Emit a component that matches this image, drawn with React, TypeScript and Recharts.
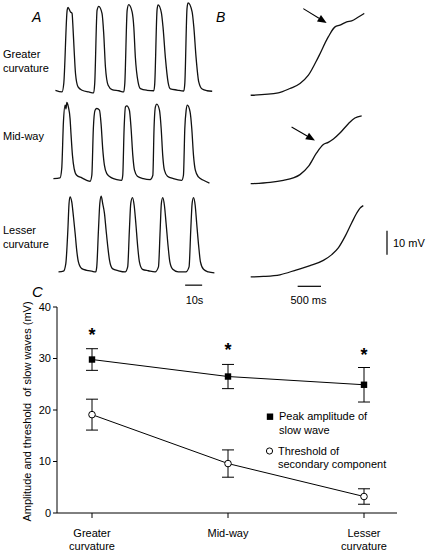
import React from 'react';
import { LineChart, Line, XAxis, YAxis, ReferenceLine, ErrorBar } from 'recharts';

const FONT = '"Liberation Sans", Arial, Helvetica, sans-serif';

// ---------- Panel A: slow waves (time in s, potential in mV above baseline) ----------
const greaterA_t = [0.2, 4.1, 5.1, 7.1, 7.6, 9.0, 10.0, 10.4, 11.2, 12.0, 13.5, 15.9, 19.8, 22.7,
  23.3, 24.7, 25.7, 27.6, 28.6, 29.6, 31.2, 33.5, 37.5, 40.4,
  41.0, 42.4, 43.3, 45.3, 46.3, 47.2, 48.8, 50.2, 54.1, 58.1,
  58.6, 60.0, 60.6, 62.5, 63.5, 64.9, 66.5, 67.8, 71.8, 75.7,
  76.3, 77.6, 78.2, 80.6, 81.6, 82.9, 84.5, 86.5, 89.4, 92.4];
const greaterA_v = [0.8, 0.1, 3.6, 34.2, 35.3, 33.5, 32.8, 28.6, 17.5, 7.8, 2.2, 0.8, 0.1, -0.3,
  3.6, 34.2, 35.8, 32.8, 24.4, 10.6, 2.9, 1.1, 0.6, 0.1,
  3.6, 34.2, 36.5, 33.5, 27.2, 14.7, 4.3, 1.5, 0.8, 0.6,
  3.4, 34.5, 36.4, 33.2, 27.0, 14.2, 4.0, 1.4, 0.9, 0.5,
  3.6, 34.8, 37.2, 33.5, 27.2, 14.7, 4.3, 1.3, 0.6, 0.4];

const midA_t = [-1.0, 2.9, 3.9, 4.9, 5.9, 6.4, 6.9, 7.8, 8.8, 9.4, 10.2, 11.2, 12.7, 15.7, 18.6, 20.6,
  21.6, 22.5, 23.5, 24.5, 26.1, 27.1, 28.0, 29.0, 30.4, 33.3, 36.3, 39.2,
  39.8, 40.6, 41.4, 42.2, 43.7, 44.7, 45.7, 46.7, 48.4, 51.9, 55.9,
  57.5, 58.2, 59.0, 59.8, 61.4, 62.4, 63.3, 64.3, 66.1, 69.6, 74.5,
  75.5, 76.3, 77.1, 77.8, 79.4, 80.4, 81.4, 82.5, 84.3, 87.3, 90.8];
const midA_v = [1.5, 1.8, 5.7, 25.1, 32.1, 30.5, 33.2, 31.4, 26.5, 19.6, 11.3, 5.7, 2.9, 1.8, 0.8, 0.4,
  2.9, 22.4, 30.0, 30.7, 30.0, 23.8, 14.0, 7.1, 3.6, 1.8, 1.1, 0.8,
  2.9, 22.4, 31.4, 31.8, 30.0, 22.4, 11.3, 5.0, 2.5, 1.5, 1.1,
  2.9, 22.4, 31.4, 32.5, 30.0, 22.4, 11.3, 5.0, 2.5, 1.5, 0.8,
  2.9, 22.4, 30.0, 32.1, 29.3, 22.4, 11.3, 5.0, 2.2, 0.8, -0.4];

const lesserA_t = [2.0, 4.9, 6.3, 7.5, 8.2, 8.8, 9.8, 10.8, 11.8, 12.7, 13.7, 15.7, 18.6, 21.6, 23.9,
  24.5, 25.5, 26.3, 27.1, 28.0, 29.0, 30.0, 31.0, 32.0, 33.7, 37.3, 41.2,
  42.7, 43.7, 44.5, 45.5, 46.5, 47.5, 48.6, 49.6, 51.4, 54.9, 58.8,
  60.8, 61.8, 62.5, 63.3, 64.3, 65.3, 66.5, 67.5, 69.2, 72.5, 76.9,
  78.8, 79.8, 80.6, 81.4, 82.4, 83.3, 84.5, 85.5, 87.3, 90.2, 93.7];
const lesserA_v = [0.1, 0.4, 3.6, 17.5, 28.6, 31.4, 29.3, 23.1, 16.1, 9.2, 4.3, 1.5, 0.8, 0.4, 0.1,
  2.2, 17.5, 28.6, 31.7, 28.6, 24.7, 17.5, 10.6, 5.0, 1.5, 0.6, 0.1,
  2.2, 17.5, 28.6, 31.1, 27.9, 20.3, 10.6, 4.3, 1.2, 0.6, 0.1,
  2.2, 17.5, 28.6, 31.1, 27.9, 20.3, 10.6, 4.3, 1.2, 0.1, 0.1,
  2.2, 17.5, 28.6, 31.1, 27.9, 20.3, 10.6, 4.3, 1.2, 0.1, -0.3];

// ---------- Panel B: upstroke of single slow waves (time in ms, mV) ----------
const greaterB_t = [15, 605, 855, 1070, 1250, 1465, 1675, 1820, 1925, 2070, 2175, 2320, 2445];
const greaterB_v = [0.4, 1.4, 3.2, 5.3, 8.75, 16.4, 24.7, 28.9, 29.6, 31.0, 31.4, 33.0, 34.5];
const midB_t = [15, 430, 715, 925, 1070, 1250, 1425, 1570, 1675, 1785, 1925, 2105, 2245, 2390];
const midB_v = [0.2, 0.75, 1.6, 2.6, 4.0, 7.4, 13.0, 16.5, 17.4, 18.8, 21.3, 25.2, 27.6, 28.5];
const lesserB_t = [15, 285, 640, 1000, 1285, 1570, 1750, 1890, 2035, 2175, 2285, 2355, 2425];
const lesserB_v = [0.1, 0.3, 1.0, 3.1, 4.8, 7.0, 9.4, 12.2, 17.0, 22.6, 26.75, 28.8, 29.8];

// arrows marking the secondary component: [t, mV] start and end
const greaterArrow = [[1140, 36.5], [1640, 30.5]];
const midArrow = [[890, 23.8], [1390, 18.25]];

// ---------- Panel C ----------
const categories = ['Greater curvature', 'Mid-way', 'Lesser curvature'];
const peakAmplitude = [29.8, 26.5, 24.9];
const peakSem = [2.1, 2.35, 3.35];
const secondaryThreshold = [19.1, 9.6, 3.2];
const thresholdSem = [3.0, 2.65, 1.5];
const significanceMarks = [35.5, 32.6, 31.5];
const yTicks = [0, 10, 20, 30, 40];

const zip = (t: number[], v: number[]) => t.map((x, i) => ({ t: x, v: v[i] }));

const Arrow = (p: any) => {
  const { x1, y1, x2, y2 } = p;
  const dx = x2 - x1, dy = y2 - y1;
  const len = Math.hypot(dx, dy) || 1;
  const ux = dx / len, uy = dy / len;
  const hl = 9, hw = 3.8;
  const bx = x2 - ux * hl, by = y2 - uy * hl;
  return (
    <g>
      <line x1={x1} y1={y1} x2={bx} y2={by} stroke="#000" strokeWidth={1.1} />
      <polygon points={`${x2},${y2} ${bx - uy * hw},${by + ux * hw} ${bx + uy * hw},${by - ux * hw}`} fill="#000" />
    </g>
  );
};

function Trace(props: any) {
  const { data, left, top, width, height, xDomain, yDomain, children } = props;
  return (
    <div style={{ position: 'absolute', left, top }}>
      <LineChart width={width} height={height} data={data} margin={{ top: 0, right: 0, bottom: 0, left: 0 }}>
        <XAxis type="number" dataKey="t" domain={xDomain} hide allowDataOverflow />
        <YAxis type="number" domain={yDomain} hide allowDataOverflow />
        <Line type="monotone" dataKey="v" stroke="#111" strokeWidth={1.3} dot={false} activeDot={false} isAnimationActive={false} />
        {children}
      </LineChart>
    </div>
  );
}

const CatTick = (props: any) => {
  const { x, y, payload } = props;
  const lines = String(payload.value).split(' ');
  return (
    <text x={x} y={y} textAnchor="middle" fontSize={11} fill="#000" fontFamily={FONT}>
      {lines.map((l, i) => (
        <tspan key={i} x={x} dy={i === 0 ? 17 : 13}>{l}</tspan>
      ))}
    </text>
  );
};

const SquareDot = (p: any) => (
  <rect key={`sq-${p.index}`} x={p.cx - 3.2} y={p.cy - 3.2} width={6.4} height={6.4} fill="#000" />
);
const StarDot = (p: any) => (
  <text key={`st-${p.index}`} x={p.cx} y={p.cy + 10.5} textAnchor="middle" fontSize={18} fontWeight="bold" fontFamily={FONT} fill="#000">*</text>
);

const PX_S = 1.7; // px per second in panel A
const PX_MV = 2.4; // px per mV
const PX_MS = 1 / 21.4; // px per ms in panel B

export default function App() {
  const cData = categories.map((c, i) => ({
    site: c,
    peak: peakAmplitude[i],
    peakErr: peakSem[i],
    thr: secondaryThreshold[i],
    thrErr: thresholdSem[i],
    star: significanceMarks[i],
  }));
  const aW = 98 * PX_S;
  const bW = 3000 * PX_MS;
  const hStd = 40 * PX_MV;
  const hLow = 44 * PX_MV;
  return (
    <div style={{ position: 'absolute', left: 0, top: 0, width: 428, height: 553, background: '#fff', fontFamily: FONT }}>
      {/* Panel A */}
      <Trace data={zip(greaterA_t, greaterA_v)} left={49.9} top={0.8} width={aW} height={hStd} xDomain={[-3, 95]} yDomain={[-2, 38]} />
      <Trace data={zip(midA_t, midA_v)} left={49.9} top={90.8} width={aW} height={hStd} xDomain={[-3, 95]} yDomain={[-2, 38]} />
      <Trace data={zip(lesserA_t, lesserA_v)} left={49.9} top={180.8} width={aW} height={hLow} xDomain={[-3, 95]} yDomain={[-6, 38]}>
        <ReferenceLine segment={[{ x: 76.5, y: -5.4 }, { x: 86.5, y: -5.4 }]} stroke="#000" strokeWidth={1.2} />
      </Trace>
      {/* Panel B */}
      <Trace data={zip(greaterB_t, greaterB_v)} left={250} top={4.8} width={bW} height={hStd} xDomain={[0, 3000]} yDomain={[-2, 38]}>
        <ReferenceLine segment={[{ x: greaterArrow[0][0], y: greaterArrow[0][1] }, { x: greaterArrow[1][0], y: greaterArrow[1][1] }]} shape={Arrow} />
      </Trace>
      <Trace data={zip(midB_t, midB_v)} left={250} top={93.3} width={bW} height={hStd} xDomain={[0, 3000]} yDomain={[-2, 38]}>
        <ReferenceLine segment={[{ x: midArrow[0][0], y: midArrow[0][1] }, { x: midArrow[1][0], y: midArrow[1][1] }]} shape={Arrow} />
      </Trace>
      <Trace data={zip(lesserB_t, lesserB_v)} left={250} top={186.3} width={bW} height={hLow} xDomain={[0, 3000]} yDomain={[-6, 38]}>
        <ReferenceLine segment={[{ x: 1020, y: -3.8 }, { x: 1520, y: -3.8 }]} stroke="#000" strokeWidth={1.2} />
        <ReferenceLine segment={[{ x: 2932, y: 9.4 }, { x: 2932, y: 19.4 }]} stroke="#000" strokeWidth={1.2} />
      </Trace>

      {/* Panel C */}
      <div style={{ position: 'absolute', left: 0, top: 290 }}>
        <LineChart width={428} height={263} data={cData} margin={{ top: 17, right: 31, bottom: 0, left: 0 }}>
          <XAxis dataKey="site" type="category" padding={{ left: 35, right: 33 }} height={40} tickSize={5}
            tick={<CatTick />} interval={0} axisLine={{ stroke: '#000' }} tickLine={{ stroke: '#000' }} />
          <YAxis type="number" domain={[0, 40]} ticks={yTicks} width={57} tickSize={4}
            tick={{ fontSize: 11, fill: '#000', fontFamily: FONT }} axisLine={{ stroke: '#000' }} tickLine={{ stroke: '#000' }} />
          <Line dataKey="peak" type="linear" stroke="#000" strokeWidth={1} dot={SquareDot} activeDot={false} isAnimationActive={false}>
            <ErrorBar dataKey="peakErr" width={6} stroke="#000" strokeWidth={1} direction="y" />
          </Line>
          <Line dataKey="thr" type="linear" stroke="#000" strokeWidth={1} dot={{ r: 3.3, fill: '#fff', stroke: '#000', strokeWidth: 1 }} activeDot={false} isAnimationActive={false}>
            <ErrorBar dataKey="thrErr" width={6} stroke="#000" strokeWidth={1} direction="y" />
          </Line>
          <Line dataKey="star" stroke="none" dot={StarDot} activeDot={false} isAnimationActive={false} />
        </LineChart>
      </div>

      {/* Text overlay */}
      <svg width={428} height={553} style={{ position: 'absolute', left: 0, top: 0, pointerEvents: 'none' }} fontFamily={FONT} fill="#000">
        <text x={32} y={22} fontSize={14} fontStyle="italic">A</text>
        <text x={216} y={22} fontSize={14} fontStyle="italic">B</text>
        <text x={32} y={297} fontSize={15} fontStyle="italic">C</text>
        <text x={3} y={57.5} fontSize={11}>Greater</text>
        <text x={3} y={71.5} fontSize={11}>curvature</text>
        <text x={3} y={140} fontSize={11}>Mid-way</text>
        <text x={3} y={234} fontSize={11}>Lesser</text>
        <text x={3} y={248} fontSize={11}>curvature</text>
        <text x={194.5} y={303.5} fontSize={11} textAnchor="middle">10s</text>
        <text x={308.5} y={303.5} fontSize={11} textAnchor="middle">500 ms</text>
        <text x={393} y={247} fontSize={11}>10 mV</text>
        <text x={30.5} y={411.5} fontSize={11} textAnchor="middle" transform="rotate(-90 30.5 411.5)" style={{ whiteSpace: 'pre' }}>Amplitude and threshold  of slow waves (mV)</text>
        <rect x={266.8} y={413.5} width={6.4} height={6.4} fill="#000" />
        <text x={279} y={420} fontSize={11}>Peak amplitude of</text>
        <text x={279} y={434} fontSize={11}>slow wave</text>
        <circle cx={269.5} cy={451} r={3.1} fill="#fff" stroke="#000" strokeWidth={1} />
        <text x={278} y={454.5} fontSize={11}>Threshold of</text>
        <text x={278} y={467.5} fontSize={11}>secondary component</text>
      </svg>
    </div>
  );
}
